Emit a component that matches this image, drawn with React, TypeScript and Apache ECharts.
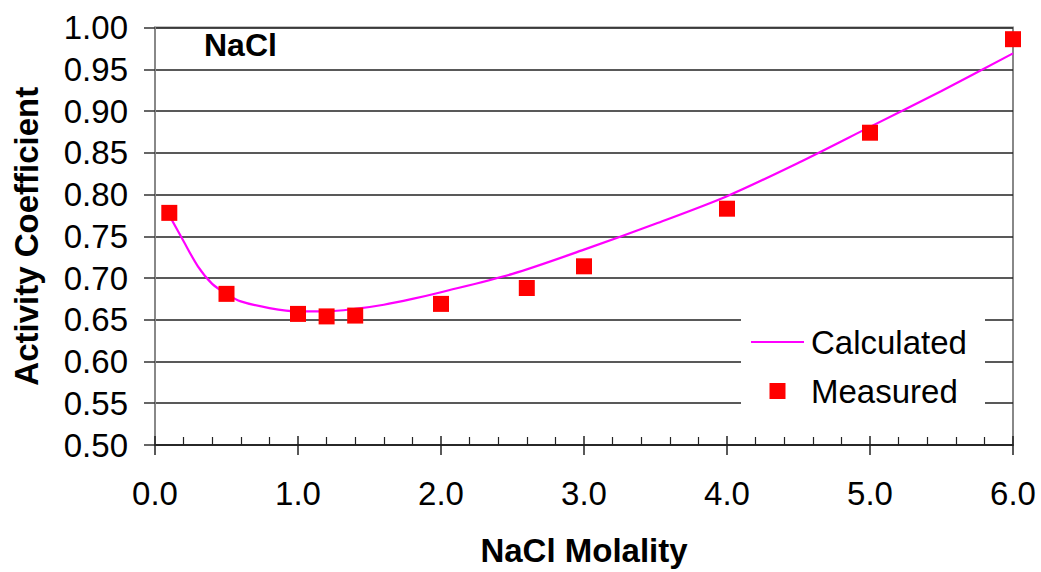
import React, { useEffect, useRef } from "react";
import * as echarts from "echarts";

const measuredX = [0.1, 0.5, 1.0, 1.2, 1.4, 2.0, 2.6, 3.0, 4.0, 5.0, 6.0];
const measuredY = [0.778, 0.681, 0.657, 0.654, 0.655, 0.669, 0.688, 0.714, 0.783, 0.874, 0.986];
const calcX = [0.1, 0.2, 0.3, 0.4, 0.5, 0.6, 0.8, 1.0, 1.2, 1.4, 1.6, 1.8, 2.0, 2.5, 3.0, 3.5, 4.0, 4.5, 5.0, 5.5, 6.0];
const calcY = [0.775, 0.744, 0.714, 0.693, 0.681, 0.672, 0.664, 0.660, 0.660, 0.663, 0.668, 0.675, 0.683, 0.705, 0.734, 0.765, 0.798, 0.838, 0.881, 0.924, 0.969];
const seriesNames = ["Calculated", "Measured"];
const chartLabel = "NaCl";
const xTitle = "NaCl Molality";
const yTitle = "Activity Coefficient";

export default function App() {
  const ref = useRef<HTMLDivElement>(null);
  useEffect(() => {
    if (!ref.current) return;
    const chart = echarts.init(ref.current, undefined, { renderer: "svg" });
    const font = "'Liberation Sans', Arial, sans-serif";
    const gridL = 155, gridR = 28, gridT = 27.5, gridB = 125.5;
    chart.setOption({
      animation: false,
      backgroundColor: "#ffffff",
      textStyle: { fontFamily: font },
      grid: { left: gridL, right: gridR, top: gridT, bottom: gridB, show: true, borderColor: "#888", borderWidth: 2, backgroundColor: "transparent" },
      xAxis: [
        {
          type: "value", min: 0, max: 6, interval: 1,
          name: xTitle, nameLocation: "middle", nameGap: 89,
          nameTextStyle: { fontSize: 33, fontWeight: "bold", color: "#000", fontFamily: font },
          axisLine: { show: true, lineStyle: { color: "#222", width: 1.5 } },
          axisTick: { show: true, inside: false, length: 10, lineStyle: { color: "#222", width: 1.5 } },
          axisLabel: { fontSize: 33, color: "#000", margin: 32, fontFamily: font, formatter: (v: number) => v.toFixed(1) },
          splitLine: { show: false },
        },
        {
          type: "value", min: 0, max: 6, interval: 1, position: "bottom",
          axisLine: { show: false },
          axisTick: { show: true, inside: true, length: 9, lineStyle: { color: "#222", width: 1.5 } },
          minorTick: { show: true, splitNumber: 5, length: 8, lineStyle: { color: "#222", width: 1.2 } },
          axisLabel: { show: false },
          splitLine: { show: false },
        },
      ],
      yAxis: {
        type: "value", min: 0.5, max: 1.0, interval: 0.05,
        name: yTitle, nameLocation: "middle", nameGap: 112,
        nameTextStyle: { fontSize: 33, fontWeight: "bold", color: "#000", fontFamily: font },
        axisLine: { show: true, lineStyle: { color: "#888", width: 2 } },
        axisTick: { show: true, inside: false, length: 11, lineStyle: { color: "#333", width: 1.5 } },
        axisLabel: { fontSize: 33, color: "#000", margin: 27, fontFamily: font, formatter: (v: number) => v.toFixed(2) },
        splitLine: { show: true, lineStyle: { color: "#222", width: 1.5 } },
      },
      series: [
        {
          name: seriesNames[0], type: "line", xAxisIndex: 0,
          data: calcX.map((x, i) => [x, calcY[i]]),
          smooth: 0.3, showSymbol: false, symbol: "none",
          lineStyle: { color: "#FF00FF", width: 2.2 }, z: 3,
        },
        {
          name: seriesNames[1], type: "scatter", xAxisIndex: 0,
          data: measuredX.map((x, i) => [x, measuredY[i]]),
          symbol: "rect", symbolSize: 16,
          itemStyle: { color: "#FF0000", opacity: 1 }, z: 4,
        },
      ],
      graphic: [
        { type: "text", left: 204, top: 29, style: { text: chartLabel, fontSize: 32, fontWeight: "bold", fill: "#000", fontFamily: font } },
        { type: "rect", shape: { x: 741, y: 316, width: 244, height: 95 }, style: { fill: "#fff" }, z: 10 },
        { type: "line", shape: { x1: 751, y1: 342, x2: 804, y2: 342 }, style: { stroke: "#FF00FF", lineWidth: 2 }, z: 11 },
        { type: "text", x: 811, y: 342, style: { text: seriesNames[0], fontSize: 33, fill: "#000", fontFamily: font, verticalAlign: "middle" }, z: 11 },
        { type: "rect", shape: { x: 769.5, y: 383, width: 16, height: 16 }, style: { fill: "#FF0000" }, z: 11 },
        { type: "text", x: 811, y: 391, style: { text: seriesNames[1], fontSize: 33, fill: "#000", fontFamily: font, verticalAlign: "middle" }, z: 11 },
      ],
    });
    return () => chart.dispose();
  }, []);
  return <div ref={ref} style={{ position: "fixed", left: 0, top: 0, width: 1041, height: 572 }} />;
}
